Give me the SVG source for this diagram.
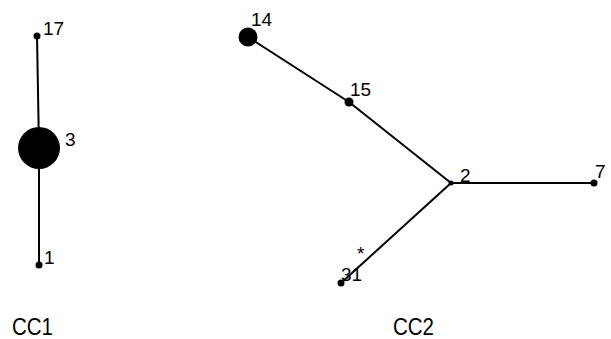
<svg xmlns="http://www.w3.org/2000/svg" width="611" height="339" viewBox="0 0 611 339">
  <style>
    .edge { stroke: #000; stroke-width: 2; fill: none; }
    .node { fill: #000; }
    .lbl { font-family: "Liberation Sans", Arial, sans-serif; font-size: 19px; fill: #000; }
    .cap { font-family: "Liberation Sans", Arial, sans-serif; font-size: 24px; fill: #000; }
  </style>
  <rect width="611" height="339" fill="#fff"/>
  <g id="connectors">
    <line class="edge" x1="37" y1="36" x2="39" y2="148"/>
    <line class="edge" x1="39" y1="148" x2="39" y2="265"/>
    <line class="edge" x1="248" y1="37" x2="349" y2="102"/>
    <line class="edge" x1="349" y1="102" x2="451" y2="183"/>
    <line class="edge" x1="451" y1="183" x2="594" y2="183"/>
    <line class="edge" x1="451" y1="183" x2="341" y2="283"/>
  </g>
  <g id="n17"><circle class="node" cx="37" cy="36" r="3.5"/><text class="lbl" x="43" y="35">17</text></g>
  <g id="n3"><circle class="node" cx="39" cy="148" r="21"/><text class="lbl" x="65" y="146">3</text></g>
  <g id="n1"><circle class="node" cx="39" cy="265" r="3.5"/><text class="lbl" x="44" y="264">1</text></g>
  <g id="n14"><circle class="node" cx="248" cy="37" r="9.5"/><text class="lbl" x="251" y="26">14</text></g>
  <g id="n15"><circle class="node" cx="349" cy="102" r="4.5"/><text class="lbl" x="350" y="96">15</text></g>
  <g id="n2"><circle class="node" cx="451" cy="183" r="2.5"/><text class="lbl" x="460" y="182">2</text></g>
  <g id="n7"><circle class="node" cx="594" cy="183" r="3.5"/><text class="lbl" x="595" y="178">7</text></g>
  <g id="n31"><circle class="node" cx="341" cy="283" r="3.5"/><text class="lbl" x="341" y="281">31</text><text class="lbl" x="357" y="260" font-size="16">*</text></g>
  <g id="labels">
    <text class="cap" x="12" y="335" textLength="41" lengthAdjust="spacingAndGlyphs">CC1</text>
    <text class="cap" x="393" y="335" textLength="41" lengthAdjust="spacingAndGlyphs">CC2</text>
  </g>
</svg>
